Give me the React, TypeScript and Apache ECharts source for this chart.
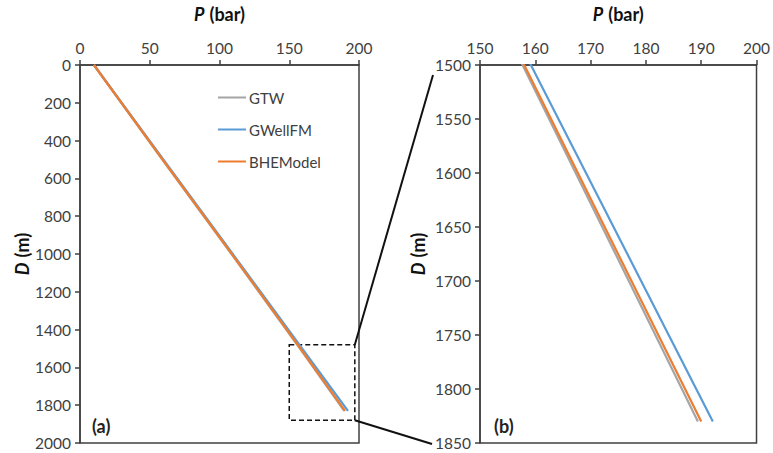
import React, { useEffect, useRef } from "react";
import * as echarts from "echarts";

// Depth samples (m) and pressure (bar) from each model
const depth = [0, 500, 1000, 1500, 1830];
const gtw = [10, 59.0, 108.6, 157.7, 189.4];
const gwellfm = [10, 59.7, 109.5, 159.2, 192.1];
const bhemodel = [10, 59.2, 108.9, 158.0, 190.0];

const seriesNames = ["GTW", "GWellFM", "BHEModel"];
const seriesColors = ["#A5A5A5", "#5B9BD5", "#ED7D31"];
const seriesValues = [gtw, gwellfm, bhemodel];

// Zoom window drawn on panel (a): pressure and depth extents
const zoomP = [150, 197];
const zoomD = [1480, 1880];

const FONT = "Lato, 'Noto Sans', sans-serif";
const AXIS_COLOR = "#404040";

const titleRich = {
  i: { fontStyle: "italic", fontWeight: "bold", fontSize: 18, color: "#111", fontFamily: FONT, padding: [0, 5, 0, 0] },
  b: { fontWeight: "bold", fontSize: 18, color: "#111", fontFamily: FONT },
};

const plain = (v: number) => String(v);

function xAxisFor(gridIndex: number, min: number, max: number, interval: number) {
  return {
    type: "value",
    gridIndex,
    position: "top",
    min,
    max,
    interval,
    name: "{i|P}{b|(bar)}",
    nameLocation: "middle",
    nameGap: 42,
    nameTextStyle: { rich: titleRich },
    axisLine: { show: true, onZero: false, lineStyle: { color: AXIS_COLOR, width: 1.5 } },
    axisTick: { show: true, inside: false, length: 5, lineStyle: { color: AXIS_COLOR, width: 1.5 } },
    axisLabel: { color: AXIS_COLOR, fontSize: 15.5, fontFamily: FONT, margin: 9, formatter: plain },
    splitLine: { show: false },
  };
}

function yAxisFor(gridIndex: number, min: number, max: number, interval: number, gap: number) {
  return {
    type: "value",
    gridIndex,
    inverse: true,
    min,
    max,
    interval,
    name: "{i|D}{b|(m)}",
    nameLocation: "middle",
    nameGap: gap,
    nameRotate: 90,
    nameTextStyle: { rich: titleRich },
    axisLine: { show: true, onZero: false, lineStyle: { color: AXIS_COLOR, width: 1.5 } },
    axisTick: { show: true, inside: false, length: 5, lineStyle: { color: AXIS_COLOR, width: 1.5 } },
    axisLabel: { color: AXIS_COLOR, fontSize: 15.5, fontFamily: FONT, margin: 9, formatter: plain },
    splitLine: { show: false },
  };
}

function buildSeries(gridIndex: number) {
  return seriesNames.map((name, k) => ({
    name,
    type: "line",
    xAxisIndex: gridIndex,
    yAxisIndex: gridIndex,
    symbol: "none",
    clip: true,
    lineStyle: { color: seriesColors[k], width: 2.2 },
    itemStyle: { color: seriesColors[k] },
    data: depth.map((d, i) => [seriesValues[k][i], d]),
    z: 2 + k,
    ...(gridIndex === 0 && k === 0
      ? {
          markArea: {
            silent: true,
            itemStyle: {
              color: "rgba(0,0,0,0)",
              borderColor: "#111",
              borderWidth: 1.5,
              borderType: [5, 3],
            },
            data: [[{ coord: [zoomP[0], zoomD[0]] }, { coord: [zoomP[1], zoomD[1]] }]],
          },
        }
      : {}),
  }));
}

export default function App() {
  const ref = useRef<HTMLDivElement>(null);

  useEffect(() => {
    document.body.style.margin = "0";
    if (!ref.current) return;
    const chart = echarts.init(ref.current, undefined, { renderer: "svg" });

    chart.setOption({
      animation: false,
      backgroundColor: "#ffffff",
      textStyle: { fontFamily: FONT },
      grid: [
        { left: 80, top: 62, width: 279, height: 381, show: true, borderColor: AXIS_COLOR, borderWidth: 1.5, backgroundColor: "transparent" },
        { left: 480, top: 62, width: 279, height: 381, show: true, borderColor: AXIS_COLOR, borderWidth: 1.5, backgroundColor: "transparent" },
      ],
      xAxis: [xAxisFor(0, 0, 200, 50), xAxisFor(1, 150, 200, 10)],
      yAxis: [yAxisFor(0, 0, 2000, 200, 42), yAxisFor(1, 1500, 1850, 50, 53)],
      legend: {
        orient: "vertical",
        left: 213,
        top: 85,
        itemWidth: 28,
        itemHeight: 2,
        icon: "rect",
        itemGap: 17,
        data: seriesNames,
        textStyle: { color: AXIS_COLOR, fontSize: 15, fontFamily: FONT, padding: [0, 0, 0, -2] },
      },
      series: [...buildSeries(0), ...buildSeries(1)],
    });

    // Leader lines from the zoom window on (a) to the axis of (b)
    const topCorner = chart.convertToPixel({ gridIndex: 0 }, [zoomP[1], zoomD[0]]) as number[];
    const botCorner = chart.convertToPixel({ gridIndex: 0 }, [zoomP[1], zoomD[1]]) as number[];
    const bTop = chart.convertToPixel({ gridIndex: 1 }, [150, 1500]) as number[];
    const bBot = chart.convertToPixel({ gridIndex: 1 }, [150, 1850]) as number[];

    chart.setOption({
      graphic: [
        {
          type: "line",
          shape: { x1: topCorner[0], y1: topCorner[1], x2: bTop[0] - 47, y2: bTop[1] + 10 },
          style: { stroke: "#111", lineWidth: 2 },
          z: 10,
        },
        {
          type: "line",
          shape: { x1: botCorner[0], y1: botCorner[1], x2: bBot[0] - 48, y2: bBot[1] + 1 },
          style: { stroke: "#111", lineWidth: 2 },
          z: 10,
        },
        {
          type: "text",
          left: 92,
          top: 417,
          style: { text: "(a)", fontSize: 18, fontWeight: "bold", fill: "#222", fontFamily: FONT },
        },
        {
          type: "text",
          left: 494,
          top: 417,
          style: { text: "(b)", fontSize: 18, fontWeight: "bold", fill: "#222", fontFamily: FONT },
        },
      ],
    });

    return () => chart.dispose();
  }, []);

  return <div ref={ref} style={{ width: 773, height: 453 }} />;
}
